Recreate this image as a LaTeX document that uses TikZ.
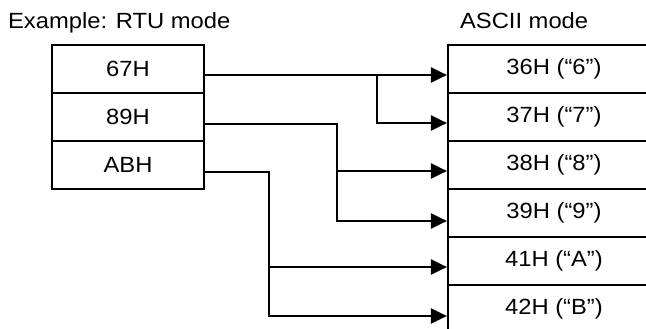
\documentclass[tikz,border=0pt]{standalone}
\usepackage{fontspec}
\setmainfont{Liberation Sans}[FakeStretch=1.08]
\usetikzlibrary{arrows.meta}
\begin{document}
\begin{tikzpicture}[x=1pt, y=-1pt, line width=2.2pt, ->, >={Triangle[length=16pt,width=15pt]},
	nodes={font=\fontsize{22pt}{26pt}\selectfont},
	cell/.style={draw, -, rectangle, minimum height=48pt, inner sep=0pt},
	rtu/.style={cell, minimum width=152pt},
	ascii/.style={cell, minimum width=212pt}]
	\clip (0,0) rectangle (646,329);
	\node (trtu) [anchor=base west, inner sep=0pt] at (7,28.5) {Example: RTU mode};
	\node (tascii) [anchor=base west, inner sep=0pt] at (459,29) {ASCII mode};
	\node (r67) [rtu] at (128,69) {67H};
	\node (r89) [rtu] at (128,117) {89H};
	\node (rab) [rtu] at (128,165) {ABH};
	\node (a36) [ascii] at (554,69) {36H (“6”)};
	\node (a37) [ascii] at (554,117) {37H (“7”)};
	\node (a38) [ascii] at (554,165) {38H (“8”)};
	\node (a39) [ascii] at (554,213) {39H (“9”)};
	\node (a41) [ascii] at (554,261) {41H (“A”)};
	\node (a42) [ascii] at (554,309) {42H (“B”)};
	\draw ([yshift=-6pt]r67.east) -- ([yshift=-6pt]a36.west);
	\draw ([yshift=-6pt]r67.east) -- ++(172,0) |- ([yshift=-6pt]a37.west);
	\draw ([yshift=-7pt]r89.east) -- ++(132,0) |- ([yshift=-6pt]a38.west);
	\draw ([yshift=-7pt]r89.east) -- ++(132,0) |- ([yshift=-8pt]a39.west);
	\draw ([yshift=-7pt]rab.east) -- ++(64,0) |- ([yshift=-6pt]a41.west);
	\draw ([yshift=-7pt]rab.east) -- ++(64,0) |- ([yshift=-7pt]a42.west);
\end{tikzpicture}
\end{document}
